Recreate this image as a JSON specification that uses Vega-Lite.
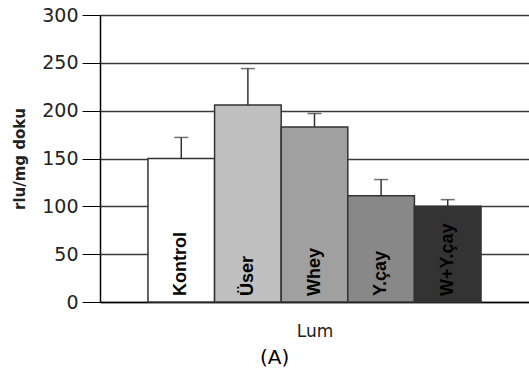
{
  "$schema": "https://vega.github.io/schema/vega-lite/v6.json",
  "width": 429,
  "height": 287,
  "autosize": "none",
  "padding": {"left": 100, "top": 15, "right": 0, "bottom": 77},
  "background": "white",
  "config": {
    "view": {"stroke": null},
    "font": "DejaVu Sans"
  },
  "title": {
    "text": "(A)",
    "orient": "bottom",
    "anchor": "start",
    "frame": "group",
    "dx": 160,
    "offset": 9,
    "fontSize": 20,
    "fontWeight": "normal",
    "color": "#000000",
    "font": "DejaVu Sans"
  },
  "data": {
    "values": [
      {"group": "Kontrol", "value": 150, "upper": 172},
      {"group": "Üser", "value": 206, "upper": 244},
      {"group": "Whey", "value": 183, "upper": 197},
      {"group": "Y.çay", "value": 111, "upper": 128},
      {"group": "W+Y.çay", "value": 100, "upper": 107}
    ]
  },
  "encoding": {
    "x": {
      "field": "group",
      "type": "nominal",
      "sort": null,
      "scale": {"paddingInner": 0, "paddingOuter": 0.72},
      "axis": {
        "title": "Lum",
        "titleFont": "DejaVu Sans",
        "titleFontSize": 17,
        "titleFontWeight": "normal",
        "titleColor": "#222222",
        "titlePadding": 21,
        "labels": false,
        "ticks": false,
        "domainColor": "#000000",
        "domainWidth": 1.5
      }
    }
  },
  "layer": [
    {
      "mark": {"type": "bar", "stroke": "#333333", "strokeWidth": 1.5},
      "encoding": {
        "y": {
          "field": "value",
          "type": "quantitative",
          "scale": {"domain": [0, 300]},
          "axis": {
            "title": "rlu/mg doku",
            "titleFont": "DejaVu Sans",
            "titleFontSize": 15,
            "titleFontWeight": "bold",
            "titleColor": "#222222",
            "titlePadding": 14,
            "values": [0, 50, 100, 150, 200, 250, 300],
            "labelFont": "DejaVu Sans",
            "labelFontSize": 19,
            "labelColor": "#222222",
            "labelPadding": 4,
            "tickSize": 18,
            "tickColor": "#000000",
            "domainColor": "#000000",
            "domainWidth": 1.5,
            "grid": true,
            "gridColor": "#3a3a3a",
            "gridWidth": 1.5
          }
        },
        "fill": {
          "field": "group",
          "type": "nominal",
          "sort": null,
          "scale": {
            "domain": ["Kontrol", "Üser", "Whey", "Y.çay", "W+Y.çay"],
            "range": ["#ffffff", "#c0c0c0", "#a0a0a0", "#888888", "#333333"]
          },
          "legend": null
        }
      }
    },
    {
      "mark": {"type": "rule", "color": "#333333", "strokeWidth": 1.5},
      "encoding": {
        "y": {"field": "value", "type": "quantitative"},
        "y2": {"field": "upper"}
      }
    },
    {
      "mark": {"type": "tick", "color": "#333333", "size": 14, "thickness": 1.5},
      "encoding": {
        "y": {"field": "upper", "type": "quantitative"}
      }
    },
    {
      "mark": {
        "type": "text",
        "angle": 270,
        "align": "left",
        "baseline": "middle",
        "dx": 6,
        "font": "Liberation Sans",
        "fontSize": 18,
        "fontWeight": "bold",
        "color": "#000000"
      },
      "encoding": {
        "y": {"datum": 0, "type": "quantitative"},
        "text": {"field": "group"}
      }
    }
  ]
}
